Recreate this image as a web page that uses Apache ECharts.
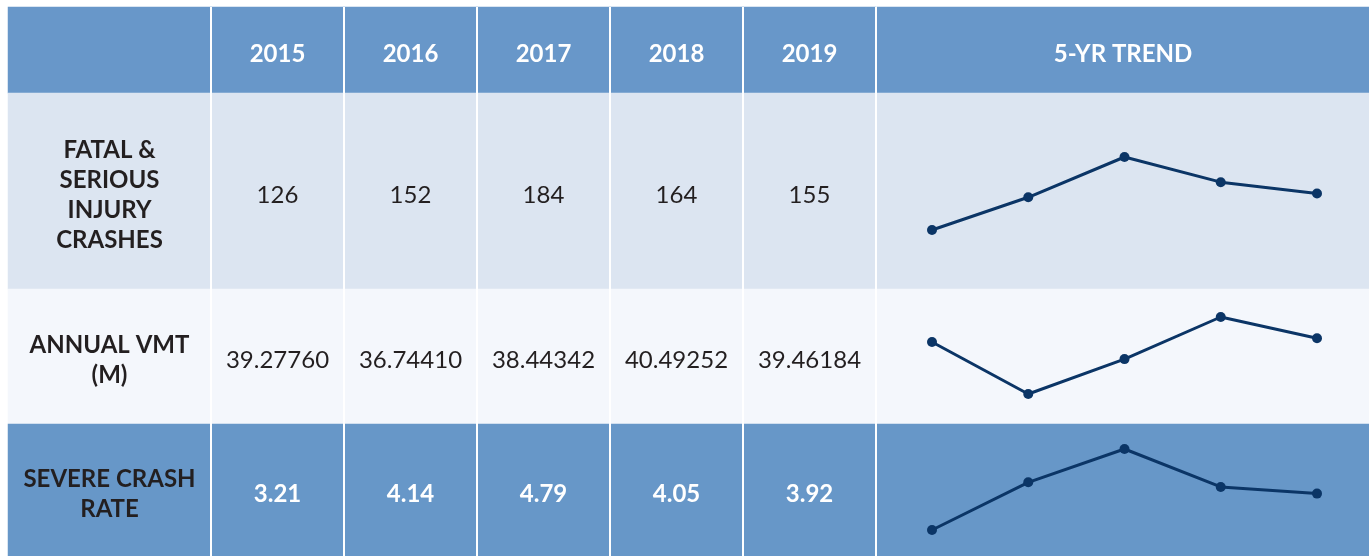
<!DOCTYPE html>
<html>
<head>
<meta charset="utf-8">
<script src="https://cdn.jsdelivr.net/npm/echarts@6/dist/echarts.min.js"></script>
<style>
  html, body { margin: 0; padding: 0; background: #ffffff; }
  #chart { width: 1369px; height: 556px; }
</style>
</head>
<body>
<div id="chart"></div>
<script>
// table data
const years = ['2015', '2016', '2017', '2018', '2019'];
const trendTitle = '5-YR TREND';
const rowLabels = ['FATAL &\nSERIOUS\nINJURY\nCRASHES', 'ANNUAL VMT\n(M)', 'SEVERE CRASH\nRATE'];
const fatalSerious = [126, 152, 184, 164, 155];
const annualVmt = [39.27760, 36.74410, 38.44342, 40.49252, 39.46184];
const severeRate = [3.21, 4.14, 4.79, 4.05, 3.92];
const rowDecimals = [0, 5, 2];
const rowValues = [fatalSerious, annualVmt, severeRate];

// layout / style
const rowTops = [7, 93, 289, 424];
const rowHeights = [86, 196, 135, 132];
const rowColors = ['#6897C9', '#DCE5F1', '#F4F7FC', '#6797C8'];
const labelCol = { left: 8, width: 203 };
const yearCol = { left: 211, width: 665 };
const trendCol = { left: 877, width: 492 };
const lineBoxes = [{ top: 157, height: 73 }, { top: 317, height: 77 }, { top: 449, height: 81 }];
const navy = '#0B3566';
const darkText = '#231F20';
const font = 'Lato';

const grid = [], xAxis = [], yAxis = [], series = [];

function addGrid(box, xa, ya) {
  grid.push(Object.assign({ containLabel: false }, box));
  const i = grid.length - 1;
  xAxis.push(Object.assign({ gridIndex: i, show: false }, xa));
  yAxis.push(Object.assign({ gridIndex: i, show: false }, ya));
  return i;
}

function cellSeries(gi, cats, texts, r, textStyle) {
  return {
    type: 'heatmap',
    xAxisIndex: gi,
    yAxisIndex: gi,
    silent: true,
    emphasis: { disabled: true },
    data: cats.map((c, i) => ({
      value: [i, 0, 0],
      text: texts[i],
      itemStyle: { color: rowColors[r] }
    })),
    label: Object.assign({
      show: true,
      fontFamily: font,
      offset: [0, 4],
      formatter: p => p.data.text
    }, textStyle)
  };
}

const headStyle = { color: '#ffffff', fontSize: 24, fontWeight: 'bold' };
const rowLabelStyle = { color: darkText, fontSize: 24, fontWeight: 'bold', lineHeight: 30, align: 'center' };

for (let r = 0; r < 4; r++) {
  const top = rowTops[r], height = rowHeights[r];
  const cat = { type: 'category', data: ['c'] };
  const yCat = { type: 'category', data: ['r'] };

  // label column
  let gi = addGrid({ left: labelCol.left, width: labelCol.width, top, height }, cat, yCat);
  series.push(cellSeries(gi, ['c'], [r === 0 ? '' : rowLabels[r - 1]], r, rowLabelStyle));

  // year columns
  gi = addGrid({ left: yearCol.left, width: yearCol.width, top, height }, {
    type: 'category', data: years, show: true, z: 10,
    axisLine: { show: false }, axisTick: { show: false }, axisLabel: { show: false },
    splitLine: { show: true, interval: 0, lineStyle: { color: '#ffffff', width: 2 } }
  }, yCat);
  let texts, style;
  if (r === 0) {
    texts = years; style = headStyle;
  } else {
    texts = rowValues[r - 1].map(v => v.toFixed(rowDecimals[r - 1]));
    style = r === 3 ? headStyle : { color: darkText, fontSize: 24, fontWeight: 'normal' };
  }
  series.push(cellSeries(gi, years, texts, r, style));

  // trend column
  gi = addGrid({ left: trendCol.left, width: trendCol.width, top, height }, cat, yCat);
  series.push(cellSeries(gi, ['c'], [r === 0 ? trendTitle : ''], r, headStyle));

  // sparkline
  if (r > 0) {
    const box = lineBoxes[r - 1];
    gi = addGrid({ left: 932, right: 52, top: box.top, height: box.height },
      { type: 'category', data: years, boundaryGap: false },
      { type: 'value', min: v => v.min, max: v => v.max });
    series.push({
      type: 'line',
      xAxisIndex: gi,
      yAxisIndex: gi,
      z: 5,
      silent: true,
      data: rowValues[r - 1],
      symbol: 'circle',
      symbolSize: 10,
      lineStyle: { color: navy, width: 3 },
      itemStyle: { color: navy }
    });
  }
}

const chart = echarts.init(document.getElementById('chart'));
chart.setOption({
  animation: false,
  backgroundColor: '#ffffff',
  textStyle: { fontFamily: font },
  grid, xAxis, yAxis, series
});
</script>
</body>
</html>
